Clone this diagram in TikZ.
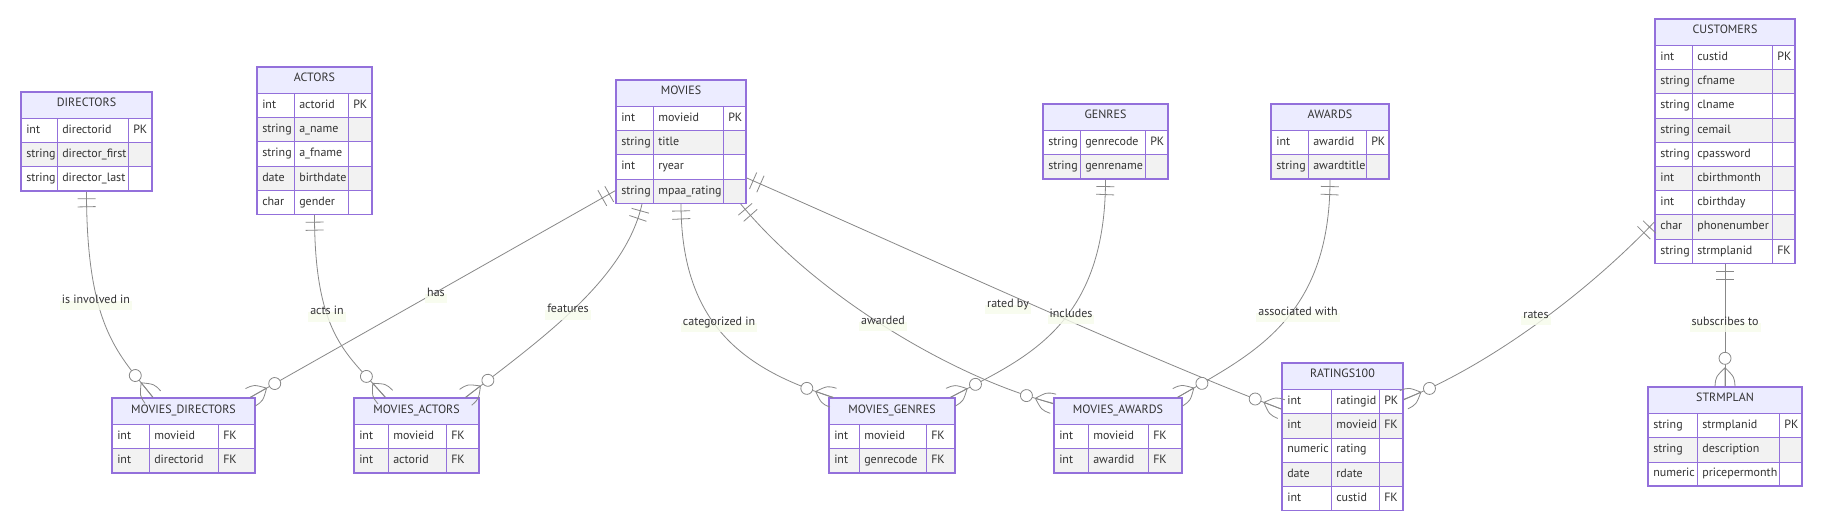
\documentclass[tikz,border=0pt]{standalone}
\usepackage{fontspec}
\setmainfont{PT Sans}
\usetikzlibrary{calc, fit, positioning, decorations.markings}

\definecolor{tblborder}{HTML}{9370DB}
\definecolor{tblhead}{HTML}{ECECFF}
\definecolor{roweven}{HTML}{F2F2F2}
\definecolor{edgecol}{HTML}{888888}
\definecolor{txtcol}{HTML}{333333}
\definecolor{lblbg}{HTML}{F7FCEC}

% entity table: name, left, top, col 1, col 2, right, title, no. of rows, rows
\newcommand{\ertable}[9]{%
  \pgfmathsetmacro{\tblbot}{#3+26.5+24.2*#8}
  \fill[tblhead] (#2,#3) rectangle (#6,#3+26.5);
  \node[tbltitle] (#1-title) at ({(#2+#6)/2},#3+15) {#7};
  \foreach \ty/\nm/\ky [count=\i] in {#9}{
    \pgfmathsetmacro{\ra}{#3+26.5+24.2*(\i-1)}
    \pgfmathsetmacro{\rb}{\ra+24.2}
    \ifodd\i\def\rowfill{white}\else\def\rowfill{roweven}\fi
    \draw[tblcell, fill=\rowfill] (#2,\ra) rectangle (#4,\rb);
    \draw[tblcell, fill=\rowfill] (#4,\ra) rectangle (#5,\rb);
    \draw[tblcell, fill=\rowfill] (#5,\ra) rectangle (#6,\rb);
    \node[cell] (#1-ty\i) at (#2+5,\ra+15) {\ty};
    \node[cell] (#1-nm\i) at (#4+5,\ra+15) {\nm};
    \node[cell] (#1-ky\i) at (#5+5,\ra+15) {\ky};
  }
  \node[tblframe, fit={(#2,#3) (#6,\tblbot)}] (#1) {};
}

\tikzset{
  tblcell/.style={draw=tblborder, line width=0.6pt},
  tblframe/.style={draw=tblborder, line width=1pt, inner sep=0pt},
  tbltitle/.style={anchor=base, inner sep=0pt, text=txtcol, font=\fontsize{9}{11}\selectfont},
  cell/.style={anchor=base west, inner sep=0pt, text=txtcol, font=\fontsize{9}{11}\selectfont},
  lbl/.style={anchor=base, text=txtcol, font=\fontsize{9}{11}\selectfont,
    fill=lblbg, fill opacity=0.8, text opacity=1, inner xsep=1.5pt, inner ysep=0pt,
    text height=2pt, text depth=5pt},
  rel/.style={draw=edgecol, line width=0.6pt},
  exactlyone/.style={postaction={decorate, decoration={markings,
      mark=at position 5.25pt with {\draw[edgecol, line width=0.6pt] (0,-6.75pt) -- (0,6.75pt);},
      mark=at position 11.25pt with {\draw[edgecol, line width=0.6pt] (0,-6.75pt) -- (0,6.75pt);}}}},
  zeromany/.style={postaction={decorate, decoration={markings,
      mark=at position -14pt with {
        \draw[edgecol, line width=0.6pt] (0,0) -- (14pt,0)
          (0,0) .. controls (7pt,7pt) .. (14pt,7.5pt)
          (0,0) .. controls (7pt,-7pt) .. (14pt,-7.5pt);
        \draw[edgecol, line width=0.6pt, fill=white] (-7pt,0) circle (4.5pt);}}}},
}

\begin{document}
\begin{tikzpicture}[x=0.75pt, y=-0.75pt]

% background
\fill[white] (0,0) rectangle (1822,530);

% parent tables
\ertable{directors}{21}{92}{57}{128}{152}{DIRECTORS}{3}{int/directorid/PK, string/director\_first/{}, string/director\_last/{}}
\ertable{actors}{257}{67}{294}{348}{372}{ACTORS}{5}{int/actorid/PK, string/a\_name/{}, string/a\_fname/{}, date/birthdate/{}, char/gender/{}}
\ertable{movies}{616}{80}{653}{723}{746}{MOVIES}{4}{int/movieid/PK, string/title/{}, int/ryear/{}, string/mpaa\_rating/{}}
\ertable{genres}{1043}{104}{1080}{1145}{1168}{GENRES}{2}{string/genrecode/PK, string/genrename/{}}
\ertable{awards}{1271}{104}{1308}{1366}{1389}{AWARDS}{2}{int/awardid/PK, string/awardtitle/{}}
\ertable{customers}{1655}{19}{1692}{1772}{1795}{CUSTOMERS}{9}{int/custid/PK, string/cfname/{}, string/clname/{}, string/cemail/{}, string/cpassword/{}, int/cbirthmonth/{}, int/cbirthday/{}, char/phonenumber/{}, string/strmplanid/FK}

% link tables
\ertable{mdir}{112}{398}{149}{218}{255}{MOVIES\_DIRECTORS}{2}{int/movieid/FK, int/directorid/FK}
\ertable{mact}{354}{398}{388}{446}{479}{MOVIES\_ACTORS}{2}{int/movieid/FK, int/actorid/FK}
\ertable{mgen}{829}{398}{859}{926}{955}{MOVIES\_GENRES}{2}{int/movieid/FK, int/genrecode/FK}
\ertable{mawd}{1054}{398}{1088}{1148}{1182}{MOVIES\_AWARDS}{2}{int/movieid/FK, int/awardid/FK}
\ertable{ratings}{1282}{363}{1331}{1379}{1403}{RATINGS100}{5}{int/ratingid/PK, int/movieid/FK, numeric/rating/{}, date/rdate/{}, int/custid/FK}
\ertable{strmplan}{1648}{387}{1697}{1779}{1802}{STRMPLAN}{3}{string/strmplanid/PK, string/description/{}, numeric/pricepermonth/{}}

% relationships
\draw[rel, exactlyone, zeromany] (directors.south)
  .. controls (86.5,330) and (120,355) .. ([xshift=-23pt]mdir.north);
\draw[rel, exactlyone, zeromany] (actors.south)
  .. controls (314.5,340) and (350,355) .. ([xshift=-23.6pt]mact.north);
\draw[rel, exactlyone, zeromany] ([yshift=10pt]movies.south west) -- ([xshift=-4pt]mdir.north east);
\draw[rel, exactlyone, zeromany] ([xshift=20pt]movies.south west)
  .. controls (625,280) and (540,340) .. ([xshift=-10.5pt]mact.north east);
\draw[rel, exactlyone, zeromany] (movies.south)
  .. controls (681,325) and (745,370) .. ([xshift=3.75pt]mgen.north west);
\draw[rel, exactlyone, zeromany] ([xshift=-4.5pt]movies.south east)
  .. controls (820,300) and (960,380) .. ([yshift=-4.5pt]mawd.north west);
\draw[rel, exactlyone, zeromany] ([yshift=19.5pt]movies.south east)
  .. controls (900,245) and (1150,360) .. ([yshift=-35pt]ratings.north west);
\draw[rel, exactlyone, zeromany] (genres.south)
  .. controls (1105.5,330) and (1020,360) .. ([xshift=-3.75pt]mgen.north east);
\draw[rel, exactlyone, zeromany] (awards.south)
  .. controls (1330,320) and (1250,355) .. ([xshift=-3.75pt]mawd.north east);
\draw[rel, exactlyone, zeromany] ([yshift=31.5pt]customers.south west)
  .. controls (1580,300) and (1480,370) .. ([yshift=-27.75pt]ratings.north east);
\draw[rel, exactlyone, zeromany] (customers.south) -- (strmplan.north);

% relationship labels
\node[lbl] (lb-involved) at (96,303.5) {is involved in};
\node[lbl] (lb-acts) at (327,315) {acts in};
\node[lbl] (lb-has) at (436,296.5) {has};
\node[lbl] (lb-features) at (568,313) {features};
\node[lbl] (lb-categ) at (719,325.5) {categorized in};
\node[lbl] (lb-awarded) at (883,324.5) {awarded};
\node[lbl] (lb-rated) at (1008,307.5) {rated by};
\node[lbl] (lb-includes) at (1071,317.5) {includes};
\node[lbl] (lb-assoc) at (1298,315.5) {associated with};
\node[lbl] (lb-rates) at (1536,318.5) {rates};
\node[lbl] (lb-subs) at (1725,325.5) {subscribes to};

\end{tikzpicture}
\end{document}
